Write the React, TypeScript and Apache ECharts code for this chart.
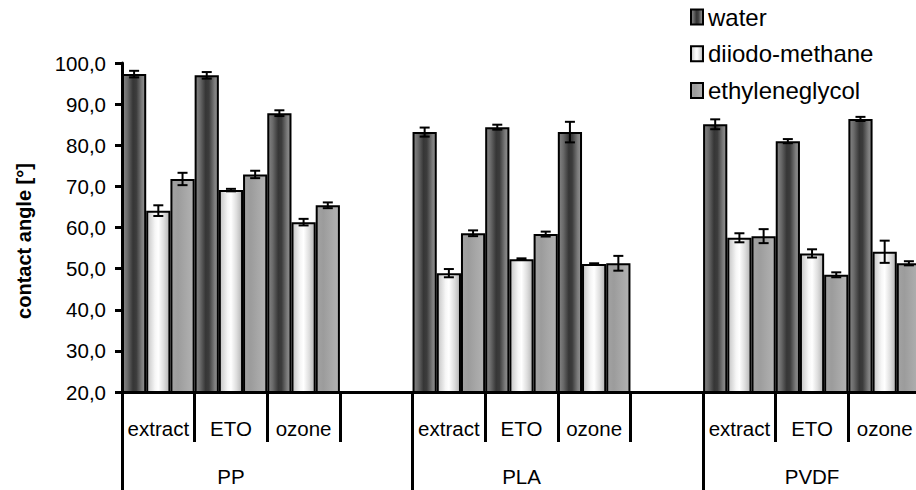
import React, { useEffect, useRef } from "react";
import * as echarts from "echarts";

const groups = ["PP", "PLA", "PVDF"];
const treatments = ["extract", "ETO", "ozone"];
const seriesNames = ["water", "diiodo-methane", "ethyleneglycol"];

// values per group x treatment (PP extract, PP ETO, PP ozone, PLA ..., PVDF ...)
const water = [97.3, 97.0, 87.8, 83.2, 84.4, 83.2, 85.1, 81.0, 86.4];
const waterErr = [0.8, 0.8, 0.7, 1.1, 0.6, 2.5, 1.2, 0.5, 0.5];
const diiodo = [64.1, 69.1, 61.3, 48.9, 52.3, 51.1, 57.5, 53.7, 54.1];
const diiodoErr = [1.3, 0.3, 0.8, 1.0, 0.2, 0.2, 1.1, 1.0, 2.7];
const ethylene = [71.8, 72.9, 65.4, 58.6, 58.4, 51.3, 57.9, 48.5, 51.3];
const ethyleneErr = [1.5, 0.9, 0.7, 0.7, 0.6, 1.8, 1.7, 0.6, 0.5];

const yTicks = { min: 20, max: 100, interval: 10 };

export default function App() {
  const ref = useRef<HTMLDivElement>(null);

  useEffect(() => {
    document.body.style.overflow = "hidden";
    if (!ref.current) return;
    const chart = echarts.init(ref.current, null, { renderer: "svg" });

    // categories: 3 treatments per group + a blank spacer between groups
    const cats: string[] = [];
    const subLabels: string[] = [];
    const groupLabels: string[] = [];
    groups.forEach((g, gi) => {
      treatments.forEach((t, ti) => {
        cats.push(g + "-" + t);
        subLabels.push(t);
        groupLabels.push(ti === 1 ? g : "");
      });
      if (gi < groups.length - 1) {
        cats.push("gap-" + gi);
        subLabels.push("");
        groupLabels.push("");
      }
    });
    const catIndex = (k: number) => Math.floor(k / 3) * 4 + (k % 3);
    const groupStarts = groups.map((_, gi) => gi * 4);

    const toBar = (vals: number[]) => {
      const arr: (number | string)[] = cats.map(() => "-");
      vals.forEach((v, k) => (arr[catIndex(k)] = v));
      return arr;
    };
    const toErr = (vals: number[], errs: number[]) =>
      vals.map((v, k) => [catIndex(k), v - errs[k], v + errs[k]]);

    const grad = (stops: [number, string][]) =>
      new echarts.graphic.LinearGradient(
        0, 0, 1, 0,
        stops.map(([offset, color]) => ({ offset, color }))
      );
    const fills = [
      grad([[0, "#858585"], [0.2, "#6a6a6a"], [0.45, "#363636"], [0.6, "#3c3c3c"], [0.85, "#7c7c7c"], [1, "#929292"]]),
      grad([[0, "#c4c4c4"], [0.35, "#f6f6f6"], [0.5, "#ffffff"], [0.75, "#dedede"], [1, "#b4b4b4"]]),
      grad([[0, "#a2a2a2"], [0.3, "#9c9c9c"], [0.6, "#a6a6a6"], [1, "#b2b2b2"]]),
    ];

    const errRender = (slot: number) => (params: any, api: any) => {
      const x = api.value(0);
      const lo = api.coord([x, api.value(1)]);
      const hi = api.coord([x, api.value(2)]);
      const bw = api.size([1, 0])[0];
      const cx = lo[0] + ((slot - 1) * bw) / 3;
      const hw = 5;
      const style = { stroke: "#000", lineWidth: 2 };
      return {
        type: "group",
        children: [
          { type: "line", shape: { x1: cx, y1: hi[1], x2: cx, y2: lo[1] }, style },
          { type: "line", shape: { x1: cx - hw, y1: hi[1], x2: cx + hw, y2: hi[1] }, style },
          { type: "line", shape: { x1: cx - hw, y1: lo[1], x2: cx + hw, y2: lo[1] }, style },
        ],
      };
    };

    const barVals = [water, diiodo, ethylene];
    const errVals = [waterErr, diiodoErr, ethyleneErr];
    const font = "Liberation Sans";

    chart.setOption({
      animation: false,
      textStyle: { fontFamily: font, color: "#000" },
      legend: {
        data: seriesNames,
        orient: "vertical",
        left: 690,
        top: 5,
        padding: 0,
        icon: "rect",
        itemWidth: 12,
        itemHeight: 15,
        itemGap: 12.7,
        textStyle: { fontFamily: font, fontSize: 24, color: "#000", lineHeight: 24 },
      },
      grid: { left: 122, top: 63, width: 799, height: 329, containLabel: false },
      xAxis: [
        {
          type: "category",
          data: cats,
          boundaryGap: true,
          axisLine: { lineStyle: { color: "#000", width: 3 } },
          axisTick: { show: true, interval: 0, length: 50, lineStyle: { color: "#000", width: 3 } },
          axisLabel: {
            interval: 0,
            margin: 26,
            fontSize: 20.5,
            color: "#000",
            fontFamily: font,
            formatter: (_v: string, i: number) => subLabels[i],
          },
        },
        {
          type: "category",
          data: cats,
          position: "bottom",
          boundaryGap: true,
          axisLine: { show: false },
          axisTick: {
            show: true,
            interval: (i: number) => groupStarts.includes(i),
            length: 100,
            lineStyle: { color: "#000", width: 3 },
          },
          axisLabel: {
            interval: 0,
            margin: 74,
            fontSize: 20.5,
            color: "#000",
            fontFamily: font,
            formatter: (_v: string, i: number) => groupLabels[i],
          },
        },
      ],
      yAxis: {
        type: "value",
        min: yTicks.min,
        max: yTicks.max,
        interval: yTicks.interval,
        name: "contact angle [°]",
        nameLocation: "middle",
        nameGap: 88,
        nameTextStyle: {
          fontFamily: font,
          fontSize: 20,
          fontWeight: "bold",
          color: "#000",
          padding: [0, 27, 0, 0],
        },
        axisLine: { show: true, lineStyle: { color: "#000", width: 3 } },
        axisTick: { show: true, length: 7, lineStyle: { color: "#000", width: 3 } },
        splitLine: { show: false },
        axisLabel: {
          fontSize: 20.5,
          color: "#000",
          fontFamily: font,
          margin: 16,
          formatter: (v: number) => v.toFixed(1).replace(".", ","),
        },
      },
      series: [
        ...seriesNames.map((name, s) => ({
          name,
          type: "bar",
          xAxisIndex: 0,
          data: toBar(barVals[s]),
          barGap: "0%",
          barCategoryGap: "0%",
          itemStyle: { color: fills[s], borderColor: "#000", borderWidth: 2 },
          z: 2,
        })),
        ...seriesNames.map((name, s) => ({
          name: name + " error",
          type: "custom",
          xAxisIndex: 0,
          renderItem: errRender(s),
          encode: { x: 0, y: [1, 2] },
          data: toErr(barVals[s], errVals[s]),
          z: 5,
          silent: true,
        })),
      ],
    });

    return () => chart.dispose();
  }, []);

  return (
    <div
      ref={ref}
      style={{ position: "absolute", left: 0, top: 0, width: 930, height: 490 }}
    />
  );
}
